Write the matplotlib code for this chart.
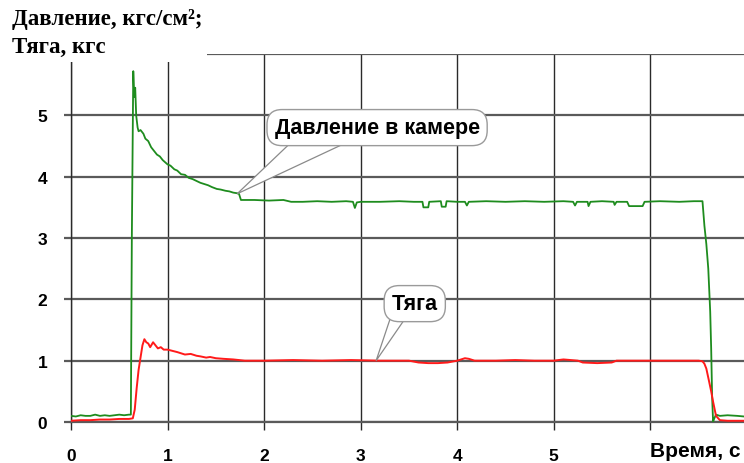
import numpy as np
import matplotlib
matplotlib.use("Agg")
import matplotlib.pyplot as plt
from matplotlib.patches import Rectangle, Polygon

# ---------------------------------------------------------------------------
# Data
# ---------------------------------------------------------------------------
# Pressure in chamber, kgf/cm2
P_PRE_T = [0.00, 0.05, 0.10, 0.15, 0.20, 0.25, 0.30, 0.35, 0.40, 0.45, 0.50, 0.55, 0.60, 0.62]
P_PRE_V = [0.10, 0.09, 0.11, 0.10, 0.10, 0.12, 0.10, 0.11, 0.10, 0.11, 0.12, 0.11, 0.12, 0.12]

P_START_T = [0.63, 0.645, 0.655, 0.665, 0.675, 0.69, 0.70, 0.72, 0.75, 0.77, 0.80, 0.83,
             0.86, 0.89, 0.92, 0.95, 1.00, 1.03, 1.07, 1.10, 1.14, 1.18, 1.22, 1.26,
             1.30, 1.34, 1.38, 1.42, 1.46, 1.51, 1.55, 1.60, 1.64, 1.68, 1.72]
P_START_V = [3.00, 5.72, 5.30, 5.45, 5.00, 4.80, 4.74, 4.76, 4.70, 4.62, 4.58, 4.48,
             4.42, 4.36, 4.33, 4.27, 4.20, 4.18, 4.12, 4.10, 4.04, 4.03, 3.98, 3.96,
             3.93, 3.90, 3.88, 3.86, 3.83, 3.80, 3.79, 3.77, 3.76, 3.74, 3.73]

P_MAIN_T = [1.74, 1.76, 1.90, 2.05, 2.20, 2.28, 2.40, 2.55, 2.70, 2.85, 2.92, 2.94, 2.96,
            3.00, 3.20, 3.40, 3.55, 3.64, 3.65, 3.70, 3.71, 3.83, 3.84, 3.88, 3.89, 4.00,
            4.08, 4.10, 4.12, 4.30, 4.50, 4.70, 4.90, 5.10, 5.20, 5.22, 5.24, 5.35, 5.36,
            5.38, 5.50, 5.62, 5.63, 5.65, 5.76, 5.78, 5.92, 5.94, 6.10, 6.30, 6.45, 6.54]
P_MAIN_V = [3.72, 3.62, 3.62, 3.61, 3.62, 3.59, 3.59, 3.60, 3.59, 3.60, 3.59, 3.49, 3.58,
            3.59, 3.59, 3.60, 3.59, 3.59, 3.50, 3.50, 3.59, 3.60, 3.51, 3.51, 3.60, 3.59,
            3.59, 3.53, 3.59, 3.60, 3.59, 3.60, 3.59, 3.60, 3.59, 3.53, 3.59, 3.59, 3.52,
            3.59, 3.60, 3.59, 3.54, 3.59, 3.59, 3.52, 3.52, 3.59, 3.60, 3.59, 3.60, 3.60]

P_END_T = [6.56, 6.58, 6.60, 6.62, 6.63, 6.64, 6.65, 6.66, 6.68, 6.72, 6.80, 6.90, 6.97]
P_END_V = [3.20, 2.90, 2.50, 1.80, 1.20, 0.40, 0.00, 0.05, 0.12, 0.10, 0.11, 0.10, 0.09]

# Thrust, kgf
F_PRE_T = [0.00, 0.10, 0.20, 0.30, 0.40, 0.50, 0.60, 0.64]
F_PRE_V = [0.02, 0.03, 0.03, 0.04, 0.04, 0.05, 0.05, 0.06]

F_START_T = [0.66, 0.68, 0.70, 0.72, 0.74, 0.76, 0.78, 0.80, 0.82, 0.85, 0.88, 0.90, 0.93,
             0.96, 1.00, 1.05, 1.10, 1.14, 1.18, 1.24, 1.30, 1.34, 1.40, 1.44, 1.50, 1.58,
             1.68, 1.80]
F_START_V = [0.20, 0.55, 0.85, 1.05, 1.25, 1.35, 1.30, 1.28, 1.22, 1.30, 1.24, 1.20, 1.22,
             1.18, 1.18, 1.16, 1.14, 1.12, 1.10, 1.11, 1.08, 1.07, 1.05, 1.06, 1.04, 1.03,
             1.02, 1.00]

F_MAIN_T = [2.00, 2.30, 2.60, 2.90, 3.20, 3.50, 3.60, 3.70, 3.80, 3.90, 4.00, 4.08, 4.12,
            4.18, 4.40, 4.60, 4.80, 5.00, 5.10, 5.25, 5.30, 5.45, 5.60, 5.65, 5.90, 6.20, 6.50]
F_MAIN_V = [1.00, 1.01, 1.00, 1.01, 1.00, 1.00, 0.97, 0.96, 0.96, 0.97, 1.00, 1.04, 1.03,
            1.00, 1.00, 1.01, 1.00, 1.00, 1.02, 1.00, 0.97, 0.96, 0.97, 1.00, 1.00, 1.00, 1.00]

F_END_T = [6.54, 6.56, 6.58, 6.61, 6.63, 6.65, 6.68, 6.72, 6.80, 6.97]
F_END_V = [0.99, 0.95, 0.87, 0.65, 0.50, 0.33, 0.10, 0.03, 0.02, 0.02]

X_TICKS = [0, 1, 2, 3, 4, 5, 6]
X_LABELS = ["0", "1", "2", "3", "4", "5", ""]
Y_TICKS = [0, 1, 2, 3, 4, 5, 6]
Y_LABELS = ["0", "1", "2", "3", "4", "5", ""]

# callouts: text, point on the curve, bubble centre, pointer base (x0, x1, y)
CALLOUTS = [
    ("Давление в камере", (1.72, 3.72), (3.17, 4.80), (2.32, 2.94, 4.62)),
    ("Тяга", (3.16, 1.00), (3.56, 1.93), (3.33, 3.51, 1.80)),
]

# ---------------------------------------------------------------------------
# Style
# ---------------------------------------------------------------------------
GREEN = "#1e8c1e"
RED = "#ff1a1a"
GRID_H = "#5a5a5a"
GRID_V = "#2a2a2a"
SANS = "Liberation Sans"
SERIF = "Liberation Serif"

p_t = np.concatenate([P_PRE_T, P_START_T, P_MAIN_T, P_END_T])
p_v = np.concatenate([P_PRE_V, P_START_V, P_MAIN_V, P_END_V])
f_t = np.concatenate([F_PRE_T, F_START_T, F_MAIN_T, F_END_T])
f_v = np.concatenate([F_PRE_V, F_START_V, F_MAIN_V, F_END_V])

fig = plt.figure(figsize=(7.44, 4.64), dpi=100)
ax = fig.add_axes([71 / 744, 41 / 464, 1 - 71 / 744, 368 / 464])

ax.plot(p_t, p_v, color=GREEN, linewidth=1.3, zorder=4)
ax.plot(f_t, f_v, color=RED, linewidth=1.4, zorder=5)

ax.set_xlim(0, 6.97)
ax.set_ylim(0, 6)
ax.set_xticks(X_TICKS)
ax.set_xticklabels(X_LABELS)
ax.set_yticks(Y_TICKS)
ax.set_yticklabels(Y_LABELS)

ax.yaxis.grid(True, color=GRID_H, linewidth=1.6, zorder=1)
ax.xaxis.grid(True, color=GRID_V, linewidth=1.0, zorder=1)
ax.set_axisbelow(True)
for side in ["top", "right"]:
    ax.spines[side].set_visible(False)
ax.spines["left"].set_color(GRID_V)
ax.spines["left"].set_linewidth(1.0)
ax.spines["bottom"].set_color(GRID_H)
ax.spines["bottom"].set_linewidth(1.6)

ax.tick_params(axis="y", length=5, width=1.6, color=GRID_H, pad=12)
ax.tick_params(axis="x", length=6, width=1.0, color=GRID_V, pad=12.5)
for lab in ax.get_xticklabels() + ax.get_yticklabels():
    lab.set_fontfamily(SANS)
    lab.set_fontweight("bold")
    lab.set_fontsize(12.5)

# callouts: white pointer under a rounded bubble
bubble = dict(boxstyle="round,pad=0.35,rounding_size=0.7", fc="white", ec="#9a9a9a", lw=1.0)
for text, tip, centre, base in CALLOUTS:
    x0, x1, yb = base
    ax.add_patch(Polygon([(x0, yb), (x1, yb), tip], closed=True, fc="white",
                         ec="#8a8a8a", lw=0.9, zorder=6))
    ax.text(centre[0], centre[1], text, ha="center", va="center", fontsize=15.5,
            fontweight="bold", fontfamily=SANS, bbox=bubble, zorder=7)

# title block on white background
fig.add_artist(Rectangle((0, 1 - 63 / 464), 207 / 744, 63 / 464,
                         transform=fig.transFigure, fc="white", ec="none", zorder=2))
fig.text(12 / 744, 1 - 19 / 464, "Давление, кгс/см²;", fontsize=16.5, fontweight="bold",
         fontfamily=SERIF, va="center", ha="left", zorder=3)
fig.text(12 / 744, 1 - 47 / 464, "Тяга, кгс", fontsize=16.5, fontweight="bold",
         fontfamily=SERIF, va="center", ha="left", zorder=3)

fig.text(1 - 3 / 744, 7 / 464, "Время, с", fontsize=15, fontweight="bold",
         fontfamily=SANS, va="baseline", ha="right")

fig.savefig("out.png", dpi=100)
